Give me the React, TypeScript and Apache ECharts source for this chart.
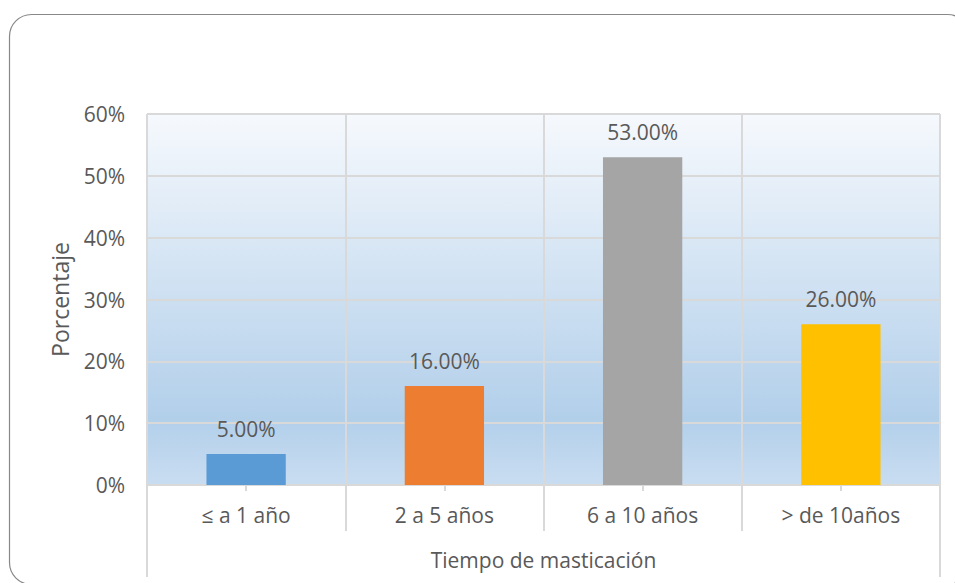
import React, { useEffect, useRef } from "react";
import * as echarts from "echarts";

const categories = ["≤ a 1 año", "2 a 5 años", "6 a 10 años", "> de 10años"];
const values = [0.05, 0.16, 0.53, 0.26];
const barColors = ["#5b9bd5", "#ed7d31", "#a5a5a5", "#ffc000"];
const yTicks = [0, 0.1, 0.2, 0.3, 0.4, 0.5, 0.6];

const FONT = "'Open Sans', sans-serif";
const TXT = "#595959";

export default function App() {
  const ref = useRef<HTMLDivElement>(null);
  useEffect(() => {
    document.body.style.margin = "0";
    const chart = echarts.init(ref.current!, undefined, { renderer: "svg" });
    const gridLeft = 147;
    const gridRight = 955 - 940;
    const gridTop = 114;
    const gridBottom = 583 - 485;
    chart.setOption({
      animation: false,
      backgroundColor: "#ffffff",
      textStyle: { fontFamily: FONT },
      grid: {
        left: gridLeft,
        right: gridRight,
        top: gridTop,
        bottom: gridBottom,
        show: true,
        borderWidth: 0,
        backgroundColor: new echarts.graphic.LinearGradient(0, 0, 0, 1, [
          { offset: 0, color: "#f6f9fd" },
          { offset: 0.82, color: "#b2cfea" },
          { offset: 1, color: "#c9ddf1" },
        ]),
      },
      xAxis: [
        {
          type: "category",
          data: categories,
          boundaryGap: true,
          name: "Tiempo de masticación",
          nameLocation: "middle",
          nameGap: 64,
          nameTextStyle: { color: TXT, fontSize: 21, fontFamily: FONT },
          axisLine: { show: true, lineStyle: { color: "#d9d9d9", width: 2 } },
          axisTick: { show: true, alignWithLabel: true, length: 6, lineStyle: { color: "#d9d9d9", width: 2 } },
          axisLabel: { color: TXT, fontSize: 21, margin: 19, fontFamily: FONT },
          splitLine: { show: true, lineStyle: { color: "#d9d9d9", width: 2 } },
        },
        {
          type: "category",
          data: categories,
          boundaryGap: true,
          position: "bottom",
          axisLine: { show: false },
          axisTick: { show: true, alignWithLabel: false, length: 46, lineStyle: { color: "#d9d9d9", width: 2 } },
          axisLabel: { show: false },
          splitLine: { show: false },
        },
      ],
      yAxis: {
        type: "value",
        min: yTicks[0],
        max: yTicks[yTicks.length - 1],
        interval: 0.1,
        name: "Porcentaje",
        nameLocation: "middle",
        nameGap: 76,
        nameTextStyle: { color: TXT, fontSize: 23, fontFamily: FONT },
        axisLine: { show: false },
        axisTick: { show: false },
        axisLabel: {
          color: TXT,
          fontSize: 21,
          margin: 22,
          fontFamily: FONT,
          formatter: (v: number) => Math.round(v * 100) + "%",
        },
        splitLine: { show: true, lineStyle: { color: "#d9d9d9", width: 2 } },
      },
      series: [
        {
          type: "bar",
          xAxisIndex: 0,
          barWidth: "40%",
          data: values.map((v, i) => ({ value: v, itemStyle: { color: barColors[i] } })),
          label: {
            show: true,
            position: "top",
            distance: 15,
            color: TXT,
            fontSize: 21,
            fontFamily: FONT,
            formatter: (p: any) => (p.value * 100).toFixed(2) + "%",
          },
        },
      ],
      graphic: [
        {
          type: "rect",
          shape: { x: 9.5, y: 14.5, width: 960, height: 570, r: 22 },
          style: { fill: "none", stroke: "#888888", lineWidth: 1.2 },
          z: 100,
        },
        {
          type: "line",
          shape: { x1: gridLeft, y1: 485, x2: gridLeft, y2: 577 },
          style: { stroke: "#d9d9d9", lineWidth: 2 },
        },
        {
          type: "line",
          shape: { x1: 940, y1: 485, x2: 940, y2: 577 },
          style: { stroke: "#d9d9d9", lineWidth: 2 },
        },
      ],
    });
    return () => chart.dispose();
  }, []);
  return <div ref={ref} style={{ width: 955, height: 583 }} />;
}
